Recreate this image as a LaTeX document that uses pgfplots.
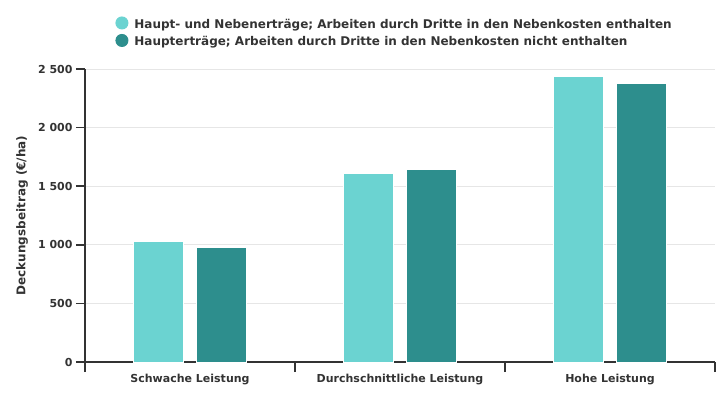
\documentclass[border=0pt]{standalone}
\usepackage{fontspec}
\setmainfont{DejaVu Sans}
\usepackage{pgfplots}
\pgfplotsset{compat=1.18}
\definecolor{lteal}{HTML}{6BD3D1}
\definecolor{dteal}{HTML}{2D8E8D}
\definecolor{txt}{HTML}{333333}
\definecolor{gridc}{HTML}{E6E6E6}
\begin{document}
\begin{tikzpicture}
\path[use as bounding box] (-85pt,-38pt) rectangle (640pt,362pt);
\begin{axis}[
  at={(0,0)}, anchor=south west, scale only axis,
  width=630pt, height=293pt,
  xmin=0, xmax=3, ymin=0, ymax=2500,
  ybar=13pt, bar width=50pt,
  axis x line*=bottom, axis y line*=left,
  axis line style={draw=txt, line width=1.5pt, -},
  ytick={0,500,1000,1500,2000,2500},
  yticklabels={0,500,1 000,1 500,2 000,2 500},
  xtick={0.5,1.5,2.5},
  xticklabels={Schwache Leistung, Durchschnittliche Leistung, Hohe Leistung},
  minor xtick={0,1,2,3},
  tick align=outside,
  major tick length=9pt, minor tick length=10pt,
  tick style={draw=txt, line width=1.5pt},
  major x tick style={draw=none},
  ymajorgrids, grid style={draw=gridc, line width=1pt},
  tick label style={font=\fontsize{11}{13}\selectfont\bfseries, text=txt},
  ylabel={Deckungsbeitrag (€/ha)},
  ylabel style={at={(axis description cs:-0.1,0.5)}, anchor=center, rotate=0, font=\fontsize{12}{14}\selectfont\bfseries, text=txt},
  legend style={at={(0.048,1.18)}, anchor=north west, draw=none, fill=none,
    font=\fontsize{12}{14}\selectfont\bfseries, text=txt, row sep=2pt, inner sep=0pt},
  legend cell align=left,
]
\addplot[fill=lteal, draw=white, line width=1pt,
  legend image code/.code={\fill[lteal] (0pt,1.6pt) circle (6pt); \path (10pt,0pt);}]
  coordinates {(0.5,1025) (1.5,1610) (2.5,2440)};
\addlegendentry{Haupt- und Nebenerträge; Arbeiten durch Dritte in den Nebenkosten enthalten}
\addplot[fill=dteal, draw=white, line width=1pt,
  legend image code/.code={\fill[dteal] (0pt,1.6pt) circle (6pt); \path (10pt,0pt);}]
  coordinates {(0.5,975) (1.5,1645) (2.5,2380)};
\addlegendentry{Haupterträge; Arbeiten durch Dritte in den Nebenkosten nicht enthalten}
\end{axis}
\end{tikzpicture}
\end{document}
